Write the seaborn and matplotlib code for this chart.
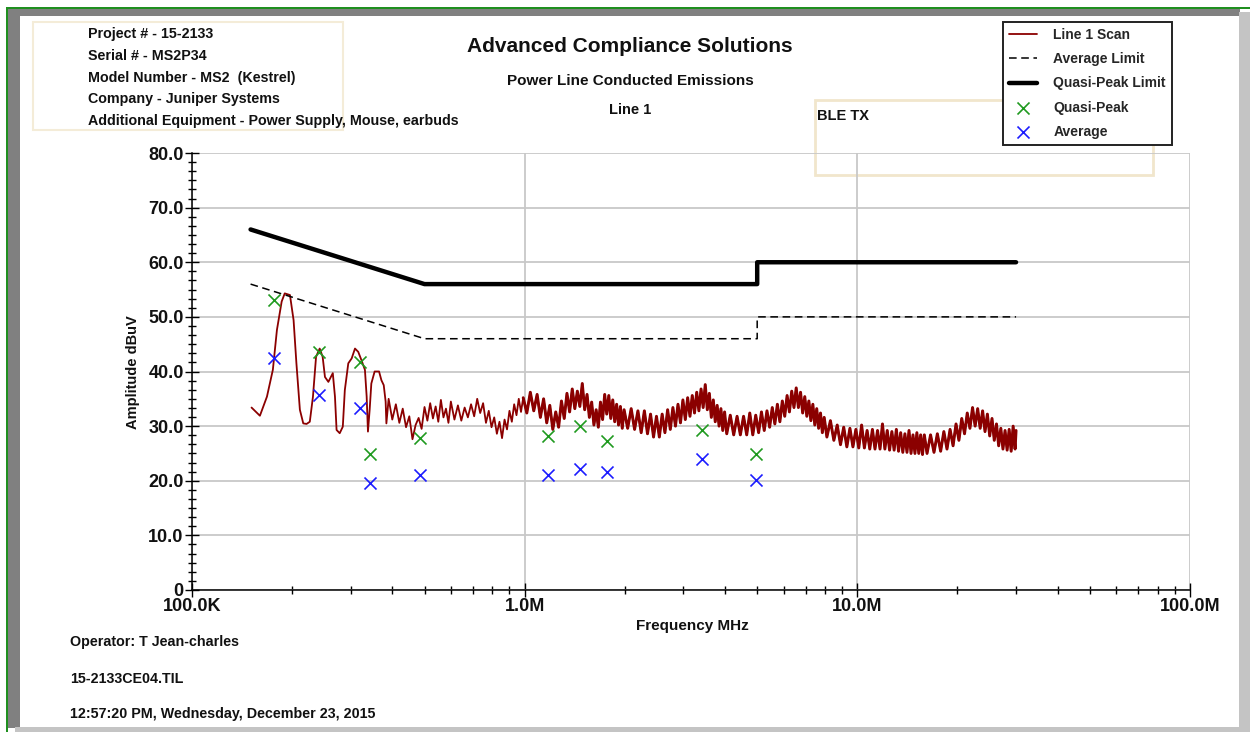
import numpy as np
import pandas as pd
import matplotlib.pyplot as plt
from matplotlib.patches import Rectangle
from matplotlib.ticker import AutoMinorLocator, LogLocator, NullFormatter
import seaborn as sns

# ---- data (MHz / dBuV) ----
scan_mhz = [
    0.151, 0.160, 0.168, 0.175, 0.180, 0.186, 0.190, 0.197, 0.202, 0.206,
    0.211, 0.216, 0.221, 0.226, 0.231, 0.236, 0.242, 0.247, 0.251, 0.257,
    0.265, 0.269, 0.272, 0.278, 0.284, 0.288, 0.295, 0.302, 0.309, 0.316,
    0.323, 0.331, 0.335, 0.338, 0.342, 0.346, 0.354, 0.365, 0.371, 0.377,
    0.382, 0.384,
    0.39, 0.40, 0.41, 0.42, 0.43, 0.44, 0.45, 0.46, 0.47, 0.48,
    0.49, 0.50, 0.51, 0.52, 0.53, 0.54, 0.55, 0.56, 0.57, 0.58,
    0.59, 0.60,
    0.615, 0.63, 0.645, 0.66, 0.675, 0.69, 0.705, 0.72, 0.735, 0.75,
    0.765, 0.78, 0.795, 0.81, 0.825, 0.84, 0.855, 0.87, 0.885, 0.90,
    0.915, 0.93, 0.945, 0.96, 0.975, 0.99,
    1.015, 1.04, 1.065, 1.09, 1.115, 1.14, 1.165, 1.19, 1.215, 1.24,
    1.265, 1.29, 1.315, 1.34, 1.365, 1.39, 1.415, 1.44, 1.465, 1.49,
    1.515, 1.54, 1.565, 1.59, 1.615, 1.64, 1.665, 1.69, 1.715, 1.74,
    1.765, 1.79, 1.815, 1.84, 1.865, 1.89, 1.915, 1.94, 1.965, 1.99,
    2.04, 2.09, 2.14, 2.19, 2.24, 2.29, 2.34, 2.39, 2.44, 2.49,
    2.54, 2.59, 2.64, 2.69, 2.74, 2.79, 2.84, 2.89, 2.94, 2.99,
    3.04, 3.09, 3.14, 3.19, 3.24, 3.29, 3.34, 3.39, 3.44, 3.49,
    3.54, 3.59, 3.64, 3.69, 3.74, 3.79, 3.84, 3.89, 3.94, 3.99,
    4.05, 4.15, 4.25, 4.35, 4.45, 4.55, 4.65, 4.75, 4.85, 4.95,
    5.05, 5.15, 5.25, 5.35, 5.45, 5.55, 5.65, 5.75, 5.85, 5.95,
    6.05, 6.15, 6.25, 6.35, 6.45, 6.55, 6.65, 6.75, 6.85, 6.95,
    7.05, 7.15, 7.25, 7.35, 7.45, 7.55, 7.65, 7.75, 7.85, 7.95,
    8.1, 8.3, 8.5, 8.7, 8.9, 9.1, 9.3, 9.5, 9.7, 9.9,
    10.1, 10.3, 10.5, 10.7, 10.9, 11.1, 11.3, 11.5, 11.7, 11.9,
    12.1, 12.3, 12.5, 12.7, 12.9, 13.1, 13.3, 13.5, 13.7, 13.9,
    14.1, 14.3, 14.5, 14.7, 14.9, 15.1, 15.3, 15.5, 15.7, 15.9,
    16.2, 16.6, 17.0, 17.4, 17.8, 18.2, 18.6, 19.0, 19.4, 19.8,
    20.2, 20.6, 21.0, 21.4, 21.8, 22.2, 22.6, 23.0, 23.4, 23.8,
    24.2, 24.6, 25.0, 25.4, 25.8, 26.2, 26.6, 27.0, 27.4, 27.8,
    28.2, 28.6, 29.0, 29.4, 29.8, 30.0,
]
scan_dbuv = [
    33.4, 31.9, 35.4, 40.3, 47.6, 52.8, 54.3, 54.0, 49.4, 41.5,
    33.0, 30.5, 30.4, 30.8, 35.4, 42.7, 44.2, 42.7, 39.0, 38.1,
    39.7, 35.4, 29.3, 28.7, 29.9, 36.6, 41.5, 42.4, 44.2, 43.6,
    42.1, 40.3, 35.4, 29.0, 33.0, 37.8, 40.0, 40.0, 38.4, 37.5,
    34.5, 30.5,
    35.0, 31.2, 34.0, 30.6, 33.2, 29.8, 31.8, 27.6, 30.2, 31.5,
    29.5, 33.5, 31.0, 34.2, 31.4, 33.6, 30.8, 34.8, 31.6, 33.2,
    30.6, 34.5,
    31.2, 33.8, 31.0, 33.4, 31.6, 34.0, 31.8, 35.0, 32.4, 34.2,
    30.6, 32.8, 29.8, 31.6, 28.6, 30.8, 27.8, 31.2, 29.4, 32.8,
    30.8, 34.0, 32.0, 35.0, 32.6, 35.2,
    32.4, 36.2, 32.8, 35.8, 31.6, 35.0, 30.6, 33.8, 29.4, 32.6,
    29.8, 34.6, 31.4, 36.0, 32.6, 36.8, 33.2, 36.4, 33.6, 37.8,
    33.0, 35.8, 31.6, 34.4, 30.2, 33.0, 29.8, 34.4, 31.2, 35.8,
    32.2, 35.6, 31.4, 34.8, 30.8, 34.0, 30.2, 33.6, 29.6, 33.0,
    29.6, 33.2, 29.4, 32.8, 28.8, 32.8, 28.6, 32.2, 28.0, 31.8,
    28.0, 32.2, 28.8, 33.0, 29.4, 33.4, 30.0, 34.0, 30.6, 34.8,
    31.2, 35.2, 31.8, 35.6, 32.4, 36.2, 32.8, 36.8, 33.4, 37.6,
    33.0, 36.0, 31.6, 34.8, 30.8, 33.8, 30.0, 33.2, 29.2, 32.6,
    28.6, 32.0, 28.4, 31.8, 28.4, 31.8, 28.4, 32.4, 28.4, 32.0,
    28.8, 32.6, 29.2, 32.8, 29.8, 33.4, 30.4, 34.0, 30.8, 34.6,
    31.8, 35.6, 32.6, 36.4, 33.4, 37.0, 33.4, 36.2, 32.4, 35.4,
    31.8, 34.6, 31.0, 34.0, 30.2, 33.2, 29.6, 32.4, 28.8, 31.6,
    28.0, 31.0, 27.4, 30.2, 26.6, 29.8, 26.2, 29.6, 26.2, 29.4,
    26.0, 30.2, 26.0, 29.2, 25.8, 29.4, 25.8, 29.2, 25.8, 30.4,
    25.8, 29.2, 25.6, 29.0, 25.6, 29.4, 25.4, 28.8, 25.2, 28.6,
    25.2, 29.2, 25.0, 28.4, 25.0, 28.8, 25.0, 28.4, 24.8, 28.4,
    25.0, 28.4, 25.2, 28.6, 25.4, 29.0, 25.8, 29.4, 26.4, 30.4,
    27.4, 31.4, 28.6, 32.4, 29.6, 33.4, 30.0, 33.2, 29.6, 32.8,
    29.0, 32.2, 28.2, 31.4, 27.4, 30.4, 26.4, 29.6, 25.8, 29.2,
    25.6, 29.4, 25.4, 30.0, 25.8, 29.2,
]

limit_mhz = [0.15, 0.5, 5.0, 5.0, 30.0]
qp_limit = [66, 56, 56, 60, 60]
avg_limit = [56, 46, 46, 50, 50]

qp_mhz = [0.176, 0.241, 0.320, 0.342, 0.484, 1.172, 1.463, 1.763, 3.42, 4.97]
qp_dbuv = [53.1, 43.6, 41.7, 24.9, 27.8, 28.2, 30.0, 27.3, 29.3, 24.9]
avg_mhz = [0.177, 0.241, 0.320, 0.342, 0.484, 1.172, 1.463, 1.763, 3.42, 4.97]
avg_dbuv = [42.5, 35.7, 33.3, 19.6, 21.1, 21.1, 22.2, 21.6, 24.0, 20.1]

info_lines = ["Project # - 15-2133", "Serial # - MS2P34", "Model Number - MS2  (Kestrel)",
              "Company - Juniper Systems", "Additional Equipment - Power Supply, Mouse, earbuds"]
footer_lines = ["Operator: T Jean-charles", "15-2133CE04.TIL",
                "12:57:20 PM, Wednesday, December 23, 2015"]

scan = pd.DataFrame({"MHz": scan_mhz, "dBuV": scan_dbuv})
limits = pd.DataFrame({"MHz": limit_mhz, "qp": qp_limit, "avg": avg_limit})

sns.set_theme(style="white")
plt.rcParams["font.family"] = ["Liberation Sans", "DejaVu Sans"]

W, H = 1250, 732
fig = plt.figure(figsize=(12.5, 7.32), dpi=100)


def fx(x):
    return x / W


def fy(y):
    return 1 - y / H


def ftext(x, y, s, size=10.5, ha="left", **kw):
    fig.text(fx(x), fy(y), s, fontsize=size, fontweight="bold", ha=ha, va="center",
             color="#111111", **kw)


def frect(x0, y0, x1, y1, **kw):
    fig.add_artist(Rectangle((fx(x0), fy(y1)), fx(x1 - x0), (y1 - y0) / H,
                             transform=fig.transFigure, zorder=-1, **kw))


# window frame and faint text boxes
frect(7, 7, W, 9, color="#1f8f1f", lw=0)
frect(6, 7, 8, H, color="#1f8f1f", lw=0)
frect(8, 9, 1240, 16, color="#808080", lw=0)
frect(8, 9, 20, 728, color="#808080", lw=0)
frect(1239, 12, W, H, color="#c4c4c4", lw=0)
frect(15, 727, W, H, color="#c4c4c4", lw=0)
frect(33, 22, 343, 130, fill=False, ec="#f4ecd8", lw=1.5)
frect(815, 100, 1153, 175, fill=False, ec="#f1e6cc", lw=2)

ax = fig.add_axes([fx(192), fy(590), (1190 - 192) / W, (590 - 153) / H])
ax.patch.set_visible(False)
ax.set_axisbelow(True)

sns.lineplot(data=scan, x="MHz", y="dBuV", estimator=None, sort=False, color="#8b0000",
             lw=1.3, ax=ax, label="Line 1 Scan")
# the dense part of the sweep shows as a thick band
sns.lineplot(data=scan[scan["MHz"] >= 0.99], x="MHz", y="dBuV", estimator=None, sort=False,
             color="#8b0000", lw=2.1, ax=ax, legend=False)
sns.lineplot(data=limits, x="MHz", y="avg", estimator=None, sort=False, color="black",
             lw=1.1, linestyle=(0, (5, 3)), ax=ax, label="Average Limit")
sns.lineplot(data=limits, x="MHz", y="qp", estimator=None, sort=False, color="black",
             lw=3.2, ax=ax, label="Quasi-Peak Limit")
sns.scatterplot(x=qp_mhz, y=qp_dbuv, marker="x", color="#1f9a1f", s=75, linewidth=1.2,
                ax=ax, label="Quasi-Peak", zorder=5)
sns.scatterplot(x=avg_mhz, y=avg_dbuv, marker="x", color="#1c1cff", s=75, linewidth=1.2,
                ax=ax, label="Average", zorder=5)

ax.set_xscale("log")
ax.set_xlim(0.1, 100)
ax.set_ylim(0, 80)
ax.set_xticks([0.1, 1, 10, 100], labels=["100.0K", "1.0M", "10.0M", "100.0M"])
ax.xaxis.set_minor_locator(LogLocator(base=10, subs=np.arange(2, 10)))
ax.xaxis.set_minor_formatter(NullFormatter())
yt = np.arange(0, 81, 10)
ax.set_yticks(yt, labels=["0" if v == 0 else f"{v:.1f}" for v in yt])
ax.yaxis.set_minor_locator(AutoMinorLocator(6))
ax.tick_params(which="both", direction="inout", color="black", width=1,
               left=True, bottom=True)
ax.tick_params(which="major", length=10, labelsize=13, pad=1)
ax.tick_params(which="minor", length=6)
for lbl in ax.get_xticklabels() + ax.get_yticklabels():
    lbl.set_fontweight("bold")
    lbl.set_color("#111111")

ax.grid(True, which="major", color="#c8c8c8", lw=1.3)
for s in ["top", "right"]:
    ax.spines[s].set_visible(False)
for s in ["left", "bottom"]:
    ax.spines[s].set_color("black")
    ax.spines[s].set_linewidth(1.1)
ax.set_xlabel("")
ax.set_ylabel("")

leg = ax.legend(loc="upper left", bbox_to_anchor=(fx(1003), fy(22)),
                bbox_transform=fig.transFigure, frameon=True, fancybox=False,
                edgecolor="#222222", framealpha=1, prop={"weight": "bold", "size": 10},
                handlelength=2.0, handletextpad=1.2, labelspacing=0.74, borderpad=0.42,
                borderaxespad=0)
leg.get_frame().set_linewidth(1.4)
leg.set_zorder(10)

# texts
ftext(630, 47, "Advanced Compliance Solutions", size=15, ha="center")
ftext(630, 81, "Power Line Conducted Emissions", size=11, ha="center")
ftext(630, 110, "Line 1", ha="center")
ftext(817, 116, "BLE TX")
for i, s in enumerate(info_lines):
    ftext(88, 34 + i * 21.8, s, size=10.3)
for s, y in zip(footer_lines, [642, 679, 714]):
    ftext(70, y, s, size=10.3)
ftext(133, 372, "Amplitude dBuV", size=10.5, ha="center", rotation=90)
ftext(692, 626, "Frequency MHz", size=11, ha="center")

fig.savefig("out.png", dpi=100)
